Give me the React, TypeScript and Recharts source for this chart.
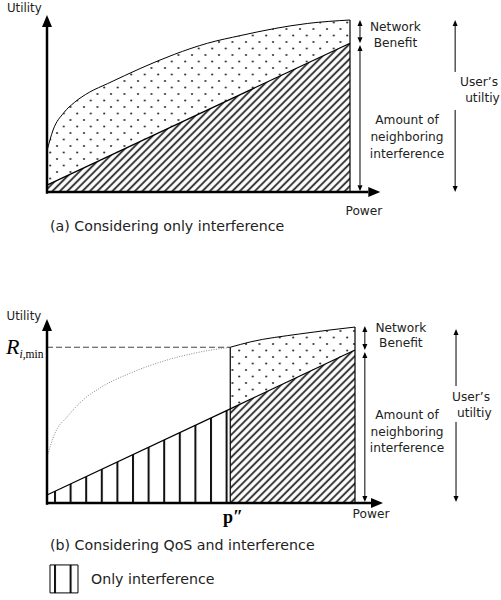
import {
  Area,
  ComposedChart,
  Line,
  ReferenceArea,
  ReferenceDot,
  ReferenceLine,
  XAxis,
  YAxis,
} from "recharts";

// (a) considering only interference
const powerA = [0, 2, 5.5, 9, 14, 20, 31, 42, 53, 64, 75, 86, 100];
const utilityA = [24, 36, 46, 52, 58, 63, 72, 80, 86.5, 91, 95, 98, 100];
const interfPowerA = [0, 100];
const interfA = [4, 86.5];

// (b) considering QoS and interference
const pQos = 59.5; // p''
const rMin = 88;
const powerB = [59.5, 66, 82, 100];
const utilityB = [88, 91, 95.5, 99.4];
const interfPowerB = [0, 59.5, 100];
const interfB = [4.5, 53.2, 86.4];
const ghostPowerB = [0, 2.6, 6.5, 11.7, 17.2, 27.9, 39, 49.7, 59.5];
const ghostB = [26, 39.5, 48.6, 58.2, 65, 74, 80.8, 85.3, 88];

const rows = (xs: number[], ys: number[]) => xs.map((x, i) => ({ x, y: ys[i] }));

const TXT = "#222";

const AxisArrow = (p: any) => {
  const { x1, y1, x2, y2 } = p;
  const len = Math.hypot(x2 - x1, y2 - y1);
  const ux = (x2 - x1) / len;
  const uy = (y2 - y1) / len;
  const hl = 12;
  const hw = 5;
  const bx = x2 - ux * hl;
  const by = y2 - uy * hl;
  return (
    <g>
      <line x1={x1} y1={y1} x2={bx} y2={by} stroke="#000" strokeWidth={2.5} />
      <polygon
        points={`${x2},${y2} ${bx - uy * hw},${by + ux * hw} ${bx + uy * hw},${by - ux * hw}`}
        fill="#000"
      />
    </g>
  );
};

// vertical arrow, heads drawn at the ends asked for
const vArrow = (headTop: boolean, headBottom: boolean) => (p: any) => {
  const x = p.x1;
  const top = Math.min(p.y1, p.y2);
  const bot = Math.max(p.y1, p.y2);
  const hl = 6;
  const hw = 2.5;
  return (
    <g>
      <line
        x1={x}
        y1={headTop ? top + hl : top}
        x2={x}
        y2={headBottom ? bot - hl : bot}
        stroke="#000"
        strokeWidth={1}
      />
      {headTop && <polygon points={`${x},${top} ${x - hw},${top + hl} ${x + hw},${top + hl}`} fill="#000" />}
      {headBottom && <polygon points={`${x},${bot} ${x - hw},${bot - hl} ${x + hw},${bot - hl}`} fill="#000" />}
    </g>
  );
};
const DoubleArrow = vArrow(true, true);
const UpArrow = vArrow(true, false);
const DownArrow = vArrow(false, true);

function note(key: string, x: number, y: number, value: string, size = 12.2, left = false) {
  return (
    <ReferenceDot
      key={key}
      x={x}
      y={y}
      r={0}
      fill="none"
      stroke="none"
      label={{ value, position: left ? "right" : "center", offset: 0, fontSize: size, fill: TXT }}
    />
  );
}

function Patterns({ id }: { id: string }) {
  return (
    <defs>
      <pattern id={`dots${id}`} patternUnits="userSpaceOnUse" width={13.5} height={13}>
        <rect width={13.5} height={13} fill="#fff" />
        <circle cx={3} cy={3} r={1.1} fill="#333" />
        <circle cx={9.75} cy={9.5} r={1.1} fill="#333" />
      </pattern>
      <pattern
        id={`diag${id}`}
        patternUnits="userSpaceOnUse"
        width={5.3}
        height={5.3}
        patternTransform="rotate(45)"
      >
        <rect width={5.3} height={5.3} fill="#fff" />
        <line x1={2.65} y1={-1} x2={2.65} y2={7} stroke="#3a3a3a" strokeWidth={2} />
      </pattern>
      <pattern id={`vert${id}`} patternUnits="userSpaceOnUse" x={7.2} width={15.6} height={10}>
        <rect width={15.6} height={10} fill="#fff" />
        <rect x={0} width={2} height={10} fill="#111" />
      </pattern>
    </defs>
  );
}

export default function App() {
  // layout: pixel positions of the origin and scale of each panel
  const aX = [-47 / 3.03, (501 - 47) / 3.03];
  const aY = [-(250 - 192) / 1.72, 192 / 1.72];
  const bX = [-47 / 3.08, (501 - 47) / 3.08];
  const bY = [-(350 - 253) / 1.77, 253 / 1.77];

  const interfBRows = rows(interfPowerB, interfB);

  return (
    <div
      style={{
        position: "absolute",
        left: 0,
        top: 0,
        width: 501,
        height: 600,
        background: "#fff",
        pointerEvents: "none",
        fontFamily: "'DejaVu Sans', sans-serif",
      }}
    >
      <div style={{ position: "absolute", left: 0, top: 0 }}>
        <ComposedChart width={501} height={250} margin={{ top: 0, right: 0, bottom: 0, left: 0 }}>
          <Patterns id="A" />
          <XAxis type="number" dataKey="x" domain={aX} hide allowDataOverflow />
          <YAxis type="number" dataKey="y" domain={aY} hide allowDataOverflow />
          <Area
            data={rows(powerA, utilityA)}
            dataKey="y"
            type="monotone"
            baseValue={0}
            stroke="#000"
            strokeWidth={1}
            fill="url(#dotsA)"
            fillOpacity={1}
            activeDot={false}
            isAnimationActive={false}
          />
          <Area
            data={rows(interfPowerA, interfA)}
            dataKey="y"
            type="linear"
            baseValue={0}
            stroke="#000"
            strokeWidth={1.2}
            fill="url(#diagA)"
            fillOpacity={1}
            activeDot={false}
            isAnimationActive={false}
          />
          <ReferenceLine segment={[{ x: 100, y: 0 }, { x: 100, y: 100 }]} stroke="#000" strokeWidth={1.2} />
          <ReferenceLine segment={[{ x: 0, y: -1 }, { x: 0, y: 102.9 }]} shape={AxisArrow} />
          <ReferenceLine segment={[{ x: 0, y: 0 }, { x: 110, y: 0 }]} shape={AxisArrow} />
          <ReferenceLine segment={[{ x: 103.3, y: 100 }, { x: 103.3, y: 86.5 }]} shape={DoubleArrow} />
          <ReferenceLine segment={[{ x: 103.3, y: 85.5 }, { x: 103.3, y: 0.5 }]} shape={DoubleArrow} />
          <ReferenceLine segment={[{ x: 134.7, y: 100 }, { x: 134.7, y: 69.8 }]} shape={UpArrow} />
          <ReferenceLine segment={[{ x: 134.7, y: 47.7 }, { x: 134.7, y: 0 }]} shape={DownArrow} />
          {note("ua", -7.5, 106.8, "Utility", 11.8)}
          {note("pa", 104.6, -10.9, "Power", 12.2)}
          {note("na1", 115, 96.1, "Network")}
          {note("na2", 115, 86.8, "Benefit")}
          {note("ia1", 118.8, 42.3, "Amount of")}
          {note("ia2", 118.8, 32.1, "neighboring")}
          {note("ia3", 118.8, 22.5, "interference")}
          {note("sa1", 136.3, 64, "User’s", 12.2, true)}
          {note("sa2", 138, 54.7, "utiltiy", 12.2, true)}
          {note("ca", 1, -19.8, "(a) Considering only interference", 14.2, true)}
        </ComposedChart>
      </div>

      <div style={{ position: "absolute", left: 0, top: 250 }}>
        <ComposedChart width={501} height={350} margin={{ top: 0, right: 0, bottom: 0, left: 0 }}>
          <Patterns id="B" />
          <XAxis type="number" dataKey="x" domain={bX} hide allowDataOverflow />
          <YAxis type="number" dataKey="y" domain={bY} hide allowDataOverflow />
          <Area
            data={rows(powerB, utilityB)}
            dataKey="y"
            type="monotone"
            baseValue={0}
            stroke="#000"
            strokeWidth={1}
            fill="url(#dotsB)"
            fillOpacity={1}
            activeDot={false}
            isAnimationActive={false}
          />
          <Area
            data={interfBRows.slice(0, 2)}
            dataKey="y"
            type="linear"
            baseValue={0}
            stroke="#000"
            strokeWidth={1.2}
            fill="url(#vertB)"
            fillOpacity={1}
            activeDot={false}
            isAnimationActive={false}
          />
          <Area
            data={interfBRows.slice(1)}
            dataKey="y"
            type="linear"
            baseValue={0}
            stroke="#000"
            strokeWidth={1.2}
            fill="url(#diagB)"
            fillOpacity={1}
            activeDot={false}
            isAnimationActive={false}
          />
          <Line
            data={rows(ghostPowerB, ghostB)}
            dataKey="y"
            type="monotone"
            stroke="#888"
            strokeWidth={1}
            strokeDasharray="1 1.5"
            dot={false}
            activeDot={false}
            isAnimationActive={false}
          />
          <ReferenceLine
            segment={[{ x: 0, y: rMin }, { x: pQos, y: rMin }]}
            stroke="#444"
            strokeWidth={1}
            strokeDasharray="6 3"
          />
          <ReferenceLine segment={[{ x: pQos, y: 0 }, { x: pQos, y: rMin }]} stroke="#000" strokeWidth={1.2} />
          <ReferenceLine segment={[{ x: 100, y: 0 }, { x: 100, y: 99.4 }]} stroke="#000" strokeWidth={1.2} />
          <ReferenceLine segment={[{ x: 0, y: -1 }, { x: 0, y: 104 }]} shape={AxisArrow} />
          <ReferenceLine segment={[{ x: 0, y: 0 }, { x: 109.1, y: 0 }]} shape={AxisArrow} />
          <ReferenceLine segment={[{ x: 103.2, y: 100 }, { x: 103.2, y: 86.4 }]} shape={DoubleArrow} />
          <ReferenceLine segment={[{ x: 103.2, y: 85.3 }, { x: 103.2, y: 0.6 }]} shape={DoubleArrow} />
          <ReferenceLine segment={[{ x: 132.8, y: 98.3 }, { x: 132.8, y: 66.1 }]} shape={UpArrow} />
          <ReferenceLine segment={[{ x: 132.8, y: 45.8 }, { x: 132.8, y: 0.6 }]} shape={DownArrow} />
          <ReferenceArea
            x1={0.97}
            x2={10.06}
            y1={-50.8}
            y2={-35}
            fill="url(#vertB)"
            fillOpacity={1}
            stroke="#000"
            strokeWidth={1}
            label={{ value: "Only interference", position: "right", offset: 13, fontSize: 14.2, fill: TXT }}
          />
          <ReferenceDot
            x={-13.3}
            y={rMin}
            r={0}
            fill="none"
            stroke="none"
            label={{
              content: (props: any) => {
                const vb = props.viewBox || {};
                return (
                  <text x={vb.x} y={vb.y + 7} fontFamily="'Liberation Serif', serif" fill="#000">
                    <tspan fontStyle="italic" fontSize={22}>R</tspan>
                    <tspan fontSize={11.5} dy={4} fontStyle="italic">i</tspan>
                    <tspan fontSize={11.5}>,min</tspan>
                  </text>
                );
              },
            }}
          />
          <ReferenceDot
            x={60.4}
            y={-11.3}
            r={0}
            fill="none"
            stroke="none"
            label={{
              content: (props: any) => {
                const vb = props.viewBox || {};
                return (
                  <text
                    x={vb.x}
                    y={vb.y}
                    textAnchor="middle"
                    fontFamily="'Liberation Serif', serif"
                    fontWeight="bold"
                    fontSize={18}
                    fill="#000"
                  >
                    p″
                  </text>
                );
              },
            }}
          />
          {note("ub", -7.5, 105.6, "Utility", 11.8)}
          {note("pb", 105.2, -6.2, "Power", 12.2)}
          {note("nb1", 114.9, 98.8, "Network")}
          {note("nb2", 114.9, 90.4, "Benefit")}
          {note("ib1", 116.9, 49.7, "Amount of")}
          {note("ib2", 116.9, 40.1, "neighboring")}
          {note("ib3", 116.9, 31.1, "interference")}
          {note("sb1", 131.5, 59.9, "User’s", 12.2, true)}
          {note("sb2", 133.1, 50.8, "utiltiy", 12.2, true)}
          {note("cb", 0.97, -23.7, "(b) Considering QoS and interference", 14.2, true)}
        </ComposedChart>
      </div>
    </div>
  );
}
